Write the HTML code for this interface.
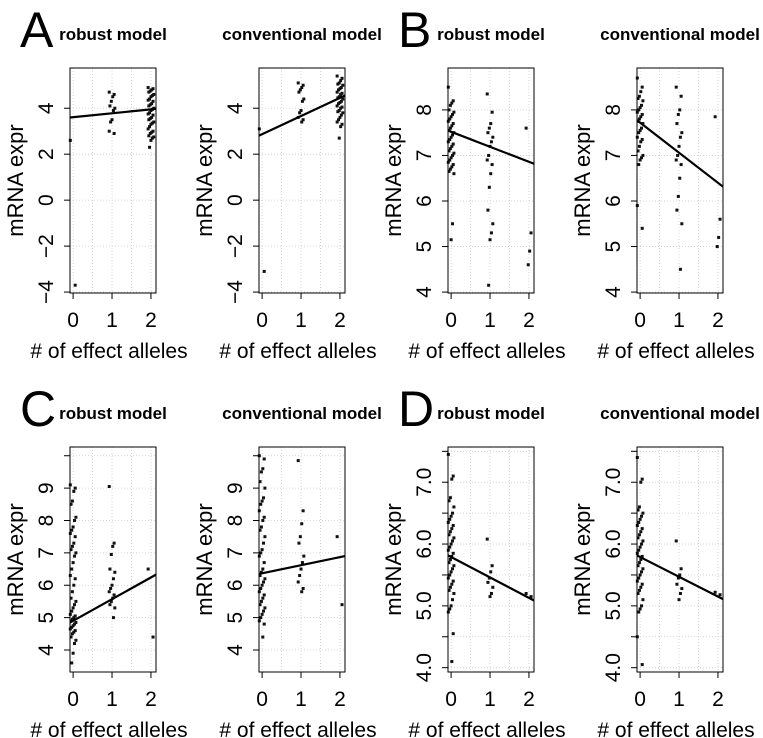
<!DOCTYPE html>
<html><head><meta charset="utf-8"><style>
html,body{margin:0;padding:0;background:#fff;}
svg{display:block;font-family:"Liberation Sans",Arial,sans-serif;}
</style></head><body>
<svg id="fig" width="763" height="738" viewBox="0 0 763 738" xmlns="http://www.w3.org/2000/svg"></svg>
<script>
// ---- data ----
const panelLetters = ["A","B","C","D"];
const modelTitles = ["robust model","conventional model"];
const xTicks = [0,1,2];
const yTicksA = [-4,-2,0,2,4];
const yTicksB = [4,5,6,7,8];
const yTicksC = [4,5,6,7,8,9,10];
const yTicksD = [4.0,4.5,5.0,5.5,6.0,6.5,7.0,7.5];
const yLabelsA = ["−4","−2","0","2","4"];
const yLabelsB = ["4","5","6","7","8"];
const yLabelsC = ["4","5","6","7","8","9",""];
const yLabelsD = ["4.0","","5.0","","6.0","","7.0",""];
const yRangeA = [-4.04,5.75];
const yRangeB = [3.98,8.92];
const yRangeC = [3.32,10.27];
const yRangeD = [3.93,7.57];
// fitted lines: [intercept, slope]
const fitARobust = [3.61,0.17], fitAConv = [2.87,0.79];
const fitBRobust = [7.52,-0.33], fitBConv = [7.72,-0.66];
const fitCRobust = [4.9,0.67], fitCConv = [6.37,0.25];
const fitDRobust = [5.79,-0.33], fitDConv = [5.79,-0.32];
// expression values per genotype group (0,1,2)
const aRob0 = [2.6,-3.7];
const aRob1 = [4.7,4.6,4.5,4.3,4.1,4.0,3.9,3.5,3.4,3.0,2.9];
const aRob2 = [4.9,4.85,4.8,4.75,4.7,4.6,4.55,4.5,4.4,4.35,4.3,4.2,4.15,4.1,4.0,3.95,3.9,3.8,3.75,3.7,3.6,3.55,3.5,3.4,3.35,3.3,3.2,3.1,3.0,2.95,2.9,2.8,2.75,2.7,2.6,2.3];
const aCon0 = [3.1,-3.1];
const aCon1 = [5.1,5.0,4.9,4.8,4.7,4.4,4.3,3.9,3.8,3.6,3.5,3.4];
const aCon2 = [5.4,5.3,5.2,5.1,5.05,5.0,4.9,4.85,4.8,4.7,4.65,4.6,4.5,4.45,4.4,4.3,4.25,4.2,4.1,4.05,4.0,3.9,3.85,3.8,3.7,3.6,3.5,3.4,3.3,3.2,2.7];
const bRob0 = [8.5,8.2,8.15,8.1,8.0,7.95,7.9,7.85,7.8,7.75,7.7,7.65,7.6,7.55,7.5,7.45,7.4,7.35,7.3,7.25,7.2,7.15,7.1,7.05,7.0,6.95,6.9,6.85,6.8,6.75,6.7,6.65,6.6,5.5,5.15];
const bRob1 = [8.35,7.95,7.7,7.6,7.5,7.4,7.3,7.2,7.0,6.9,6.8,6.6,6.3,5.8,5.5,5.3,5.15,4.15];
const bRob2 = [7.6,5.3,4.9,4.6];
const bCon0 = [8.7,8.5,8.4,8.3,8.25,8.2,8.1,8.05,8.0,7.95,7.9,7.85,7.8,7.75,7.7,7.6,7.55,7.5,7.4,7.35,7.3,7.2,7.1,7.0,6.95,6.9,6.8,5.9,5.4];
const bCon1 = [8.5,8.3,8.0,7.9,7.7,7.5,7.4,7.2,7.0,6.9,6.8,6.5,6.1,5.8,5.5,4.5];
const bCon2 = [7.85,5.6,5.2,5.0];
const cRob0 = [9.1,9.0,8.9,8.6,8.5,8.1,8.0,7.8,7.7,7.6,7.5,7.3,7.2,7.1,7.0,6.9,6.7,6.5,6.3,6.2,6.0,5.8,5.6,5.5,5.4,5.3,5.2,5.1,5.05,5.0,4.95,4.9,4.85,4.8,4.75,4.7,4.65,4.6,4.55,4.5,4.4,4.3,4.2,3.9,3.6];
const cRob1 = [9.05,7.3,7.2,6.95,6.5,6.4,6.2,6.0,5.9,5.8,5.7,5.6,5.5,5.4,5.3,5.0];
const cRob2 = [6.5,4.4];
const cCon0 = [10.0,9.9,9.6,9.5,9.2,9.0,8.7,8.6,8.5,8.3,8.1,8.0,7.8,7.7,7.5,7.3,7.1,7.0,6.9,6.7,6.5,6.4,6.3,6.2,6.1,6.0,5.9,5.8,5.7,5.6,5.5,5.4,5.3,5.2,5.1,5.0,4.9,4.8,4.4];
const cCon1 = [9.85,8.3,7.9,7.5,7.3,6.9,6.7,6.5,6.3,6.1,5.9,5.8];
const cCon2 = [7.5,5.4];
const dRob0 = [7.45,7.1,7.05,6.75,6.7,6.6,6.5,6.45,6.4,6.35,6.3,6.25,6.2,6.15,6.1,6.05,6.0,5.95,5.9,5.85,5.8,5.75,5.7,5.65,5.6,5.55,5.5,5.45,5.4,5.35,5.3,5.25,5.2,5.1,5.0,4.95,4.9,4.55,4.1];
const dRob1 = [6.08,5.65,5.55,5.45,5.38,5.3,5.2,5.15];
const dRob2 = [5.2,5.15];
const dCon0 = [7.4,7.05,7.0,6.6,6.55,6.5,6.45,6.4,6.35,6.3,6.25,6.2,6.15,6.1,6.05,6.0,5.95,5.9,5.85,5.8,5.75,5.7,5.65,5.6,5.55,5.5,5.45,5.4,5.35,5.3,5.25,5.2,5.1,5.0,4.95,4.9,4.5,4.05];
const dCon1 = [6.05,5.6,5.5,5.45,5.35,5.28,5.2,5.1];
const dCon2 = [5.22,5.18];

const NS = "http://www.w3.org/2000/svg";
const svg = document.getElementById("fig");
function mk(tag, attrs, parent){
  const e = document.createElementNS(NS, tag);
  for (const k in attrs) e.setAttribute(k, attrs[k]);
  (parent||svg).appendChild(e);
  return e;
}
const XMIN = -0.08, XMAX = 2.13, BW = 86;
const colLeft = [70,259,448,637];
const rowTop = [68,447], rowBot = [293,672];

const panels = [
  {letter:0,col:0,row:0,m:0,yt:yTicksA,yl:yLabelsA,yr:yRangeA,fit:fitARobust,g:[aRob0,aRob1,aRob2]},
  {letter:0,col:1,row:0,m:1,yt:yTicksA,yl:yLabelsA,yr:yRangeA,fit:fitAConv,g:[aCon0,aCon1,aCon2]},
  {letter:1,col:2,row:0,m:0,yt:yTicksB,yl:yLabelsB,yr:yRangeB,fit:fitBRobust,g:[bRob0,bRob1,bRob2]},
  {letter:1,col:3,row:0,m:1,yt:yTicksB,yl:yLabelsB,yr:yRangeB,fit:fitBConv,g:[bCon0,bCon1,bCon2]},
  {letter:2,col:0,row:1,m:0,yt:yTicksC,yl:yLabelsC,yr:yRangeC,fit:fitCRobust,g:[cRob0,cRob1,cRob2]},
  {letter:2,col:1,row:1,m:1,yt:yTicksC,yl:yLabelsC,yr:yRangeC,fit:fitCConv,g:[cCon0,cCon1,cCon2]},
  {letter:3,col:2,row:1,m:0,yt:yTicksD,yl:yLabelsD,yr:yRangeD,fit:fitDRobust,g:[dRob0,dRob1,dRob2]},
  {letter:3,col:3,row:1,m:1,yt:yTicksD,yl:yLabelsD,yr:yRangeD,fit:fitDConv,g:[dCon0,dCon1,dCon2]}
];

panels.forEach((p, pi) => {
  const L = colLeft[p.col], T = rowTop[p.row], B = rowBot[p.row], R = L + BW;
  const sx = v => L + (v - XMIN) / (XMAX - XMIN) * BW;
  const sy = v => B - (v - p.yr[0]) / (p.yr[1] - p.yr[0]) * (B - T);
  const g = mk("g", {});
  
  
  if (p.m === 0) {
    const lt = mk("text", {x: L - 50, y: T - 21, "font-size": 50}, g);
    
    
    lt.textContent = panelLetters[p.letter];
  }
  const tt = mk("text", {x: L + BW/2, y: T - 28, "font-size": 17, "font-weight": "bold", "text-anchor": "middle"}, g);
  
  
  tt.textContent = modelTitles[p.m];
  // grid
  [0,0.5,1,1.5,2].forEach(v => {
    const l = mk("line", {x1: sx(v), x2: sx(v), y1: T, y2: B, stroke: "#ccc", "stroke-width": 0.8, "stroke-dasharray": "1,2"}, g);
    
    
  });
  p.yt.forEach(v => {
    const yy = sy(v); if (yy < T || yy > B) return;
    const l = mk("line", {x1: L, x2: R, y1: yy, y2: yy, stroke: "#ccc", "stroke-width": 0.8, "stroke-dasharray": "1,2"}, g);
    
    
  });
  // points
  p.g.forEach((arr, gi) => {
    arr.forEach((v, i) => {
      const jit = ((i * 7) % 9 - 4) * 0.018;
      const r = mk("rect", {x: sx(gi + jit) - 1.5, y: sy(v) - 1.5, width: 3, height: 3, fill: "#111"}, g);
      
      
    });
  });
  // fit line
  const fl = mk("line", {x1: sx(XMIN), y1: sy(p.fit[0] + p.fit[1]*XMIN), x2: sx(XMAX), y2: sy(p.fit[0] + p.fit[1]*XMAX), stroke: "#000", "stroke-width": 2.2}, g);
  
  
  // box
  const bx = mk("rect", {x: L, y: T, width: BW, height: B - T, fill: "none", stroke: "#000", "stroke-width": 1}, g);
  
  
  // x axis
  xTicks.forEach(v => {
    const tl = mk("line", {x1: sx(v), x2: sx(v), y1: B, y2: B + 6, stroke: "#000"}, g);
    
    
    const tx = mk("text", {x: sx(v), y: B + 34, "font-size": 21, "text-anchor": "middle"}, g);
    
    
    tx.textContent = String(v);
  });
  const xt = mk("text", {x: L + BW/2 - 4, y: B + 65, "font-size": 21, "text-anchor": "middle"}, g);
  
  
  xt.textContent = "# of effect alleles";
  // y axis
  p.yt.forEach((v, i) => {
    const yy = sy(v); if (yy < T - 1 || yy > B + 1) return;
    const tl = mk("line", {x1: L - 6, x2: L, y1: yy, y2: yy, stroke: "#000"}, g);
    
    
    if (p.yl[i]) {
      const tx = mk("text", {x: 0, y: 0, "font-size": 21, "text-anchor": "middle", transform: `translate(${L - 17},${yy}) rotate(-90)`}, g);
      
      
      tx.textContent = p.yl[i];
    }
  });
  const yt = mk("text", {x: 0, y: 0, "font-size": 22, "text-anchor": "middle", transform: `translate(${L - 47},${(T + B)/2}) rotate(-90)`}, g);
  
  
  yt.textContent = "mRNA expr";
});
</script>
</body></html>
